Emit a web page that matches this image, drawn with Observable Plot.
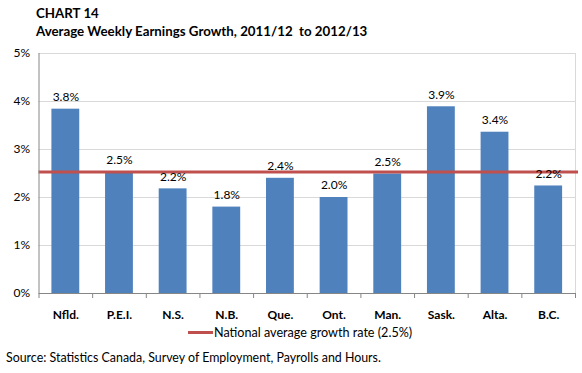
<!DOCTYPE html>
<html>
<head>
<meta charset="utf-8">
<script src="https://cdn.jsdelivr.net/npm/d3@7"></script>
<script src="https://cdn.jsdelivr.net/npm/@observablehq/plot@0.6"></script>
<style>
  html, body { margin: 0; padding: 0; background: #fff; }
  #wrap { position: relative; width: 582px; height: 373px; font-family: Lato, "Open Sans", sans-serif; color: #000; }
  #title { position: absolute; left: 36px; top: 4px; font-weight: bold; font-size: 13.3px; line-height: 18px; }
  #legend { position: absolute; left: 188px; top: 325px; font-size: 12.6px; display: flex; align-items: center; }
  #legend .sw { display: inline-block; width: 25px; height: 3px; background: #C0504D; margin-right: 1px; }
  #source { position: absolute; left: 6px; top: 350px; font-size: 12.4px; }
  #chart { position: absolute; left: 0; top: 0; }
</style>
</head>
<body>
<div id="wrap">
  <div id="chart"></div>
  <div id="title">CHART 14<br>Average Weekly Earnings Growth, 2011/12&nbsp; to 2012/13</div>
  <div id="legend"><span class="sw"></span><span>National average growth rate (2.5%)</span></div>
  <div id="source">Source: Statistics Canada, Survey of Employment, Payrolls and Hours.</div>
</div>
<script>
const provinces = ["Nfld.", "P.E.I.", "N.S.", "N.B.", "Que.", "Ont.", "Man.", "Sask.", "Alta.", "B.C."];
const growth = [3.84, 2.52, 2.18, 1.80, 2.40, 2.00, 2.49, 3.89, 3.36, 2.24];
const valueLabels = ["3.8%", "2.5%", "2.2%", "1.8%", "2.4%", "2.0%", "2.5%", "3.9%", "3.4%", "2.2%"];
const nationalAverage = 2.53;
const yTicks = [0, 1, 2, 3, 4, 5];

const data = provinces.map((p, i) => ({ i, p, v: growth[i], label: valueLabels[i] }));
const boundaries = d3.range(0, provinces.length + 1);

const plot = Plot.plot({
  width: 582,
  height: 373,
  marginLeft: 38.5,
  marginRight: 7,
  marginTop: 53,
  marginBottom: 80,
  style: { fontFamily: "Lato, 'Open Sans', sans-serif", fontSize: "11px", color: "#000", background: "transparent" },
  x: { type: "linear", domain: [0, provinces.length], axis: null },
  y: { type: "linear", domain: [0, 5], axis: null },
  marks: [
    Plot.ruleY(yTicks.filter(d => d > 0), { stroke: "#D9D9D9", strokeWidth: 1 }),
    Plot.ruleX([provinces.length], { stroke: "#D9D9D9" }),
    Plot.rectY(data, { x1: d => d.i, x2: d => d.i + 1, y1: () => 0, y2: "v", fill: "#4F81BD", insetLeft: 12.9, insetRight: 12.9 }),
    Plot.ruleY([nationalAverage], { stroke: "#C0504D", strokeWidth: 3, insetRight: -3 }),
    Plot.text(data, { x: d => d.i + 0.5, y: "v", text: "label", dy: -12, fontSize: 12, fill: "#000" }),
    Plot.ruleX([0], { stroke: "#868686" }),
    Plot.ruleY([0], { stroke: "#868686" }),
    Plot.axisX({ ticks: boundaries, tickFormat: () => "", tickSize: 5, stroke: "#868686", anchor: "bottom", label: null }),
    Plot.text(data, { x: d => d.i + 0.5, y: () => 0, text: "p", dy: 22, fontWeight: "bold", fontSize: 12, fill: "#000" }),
    Plot.axisY({ ticks: yTicks, tickFormat: d => d + "%", tickSize: 0, tickPadding: 9, fontSize: 12, anchor: "left", label: null })
  ]
});
document.getElementById("chart").appendChild(plot);
</script>
</body>
</html>
